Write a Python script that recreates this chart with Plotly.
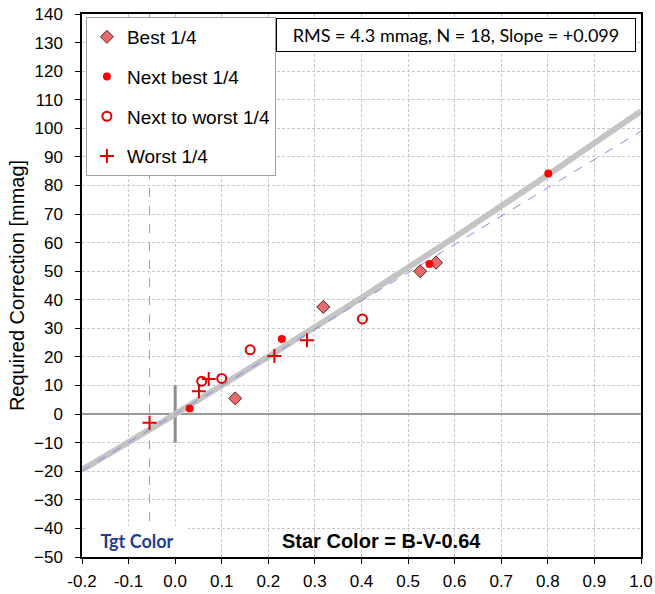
import plotly.graph_objects as go

# star color (B-V-0.64) and required correction [mmag] by quarter
best_x = [0.129, 0.318, 0.526, 0.560]
best_y = [5.5, 37.5, 50.0, 53.0]
next_best_x = [0.031, 0.229, 0.546, 0.801]
next_best_y = [2.0, 26.3, 52.5, 84.2]
next_worst_x = [0.057, 0.100, 0.161, 0.402]
next_worst_y = [11.5, 12.5, 22.5, 33.3]
worst_x = [-0.055, 0.051, 0.072, 0.213, 0.283]
worst_y = [-3.0, 8.0, 12.3, 20.3, 25.8]

# fitted transform curve and linear (slope) line
fit_x = [-0.2, 0.0, 0.2, 0.4, 0.6, 0.8, 1.0]
fit_y = [-19.5, 0.0, 20.1, 40.7, 61.9, 83.7, 106.0]
lin_x = [-0.2, 1.0]
lin_y = [-19.8, 99.0]

tgt_color = -0.055
origin_tick_y = [-10, 10]

x_ticks = [round(-0.2 + 0.1 * i, 1) for i in range(13)]
y_ticks = list(range(-50, 141, 10))

stats_text = "RMS = 4.3 mmag, N = 18, Slope = +0.099"

fig = go.Figure()

fig.add_trace(go.Scatter(x=[tgt_color, tgt_color], y=[-50, 140], mode='lines',
                         line=dict(color='#7ea6d8', width=1, dash='dash'),
                         showlegend=False, hoverinfo='skip'))
fig.add_trace(go.Scatter(x=[0, 0], y=origin_tick_y, mode='lines',
                         line=dict(color='#8c8c8c', width=3),
                         showlegend=False, hoverinfo='skip'))
fig.add_trace(go.Scatter(x=fit_x, y=fit_y, mode='lines', line_shape='spline',
                         line=dict(color='#c4c4c4', width=6),
                         showlegend=False, hoverinfo='skip'))
fig.add_trace(go.Scatter(x=lin_x, y=lin_y, mode='lines',
                         line=dict(color='#7e8ee0', width=1, dash='dash'),
                         showlegend=False, hoverinfo='skip'))

fig.add_trace(go.Scatter(x=best_x, y=best_y, mode='markers', name='Best 1/4', legendgroup='a',
                         marker=dict(symbol='diamond', size=10, color='#e46c6c',
                                     line=dict(color='#5a2020', width=1))))
fig.add_trace(go.Scatter(x=next_best_x, y=next_best_y, mode='markers', name='Next best 1/4', legendgroup='b',
                         marker=dict(symbol='circle', size=8, color='#ff0000')))
fig.add_trace(go.Scatter(x=next_worst_x, y=next_worst_y, mode='markers', name='Next to worst 1/4', legendgroup='c',
                         marker=dict(symbol='circle-open', size=9, color='#e00000',
                                     line=dict(width=2))))
fig.add_trace(go.Scatter(x=worst_x, y=worst_y, mode='markers', name='Worst 1/4', legendgroup='d',
                         marker=dict(symbol='cross-thin', size=10, color='#e00000',
                                     line=dict(color='#e00000', width=2))))

axis_common = dict(showline=True, linecolor='black', linewidth=1.5, mirror=True,
                   ticks='outside', ticklen=5, tickcolor='black', automargin=False,
                   showgrid=True, gridcolor='#c8c8c8', gridwidth=1, griddash='3px,2px',
                   tickfont=dict(family='Arial', size=17, color='black'))

fig.update_xaxes(range=[-0.2, 1.0], tickvals=x_ticks, ticktext=[f'{v:.1f}' for v in x_ticks],
                 zeroline=False, ticklabelstandoff=3, **axis_common)
fig.update_yaxes(range=[-50, 140], tickvals=y_ticks,
                 zeroline=True, zerolinecolor='#999999', zerolinewidth=2, ticklabelstandoff=9,
                 title=dict(text='Required Correction [mmag]', font=dict(family='Arial', size=20, color='black'),
                            standoff=4),
                 **axis_common)

fig.add_annotation(x=0.991, y=0.9926, xref='paper', yref='paper', xanchor='right', yanchor='top',
                   text=stats_text, showarrow=False, width=350, height=24,
                   font=dict(family='Lato', size=18, color='black'),
                   bgcolor='white', bordercolor='black', borderwidth=1, borderpad=4)
fig.add_annotation(x=0.536, y=0.0295, xref='paper', yref='paper', xanchor='center', yanchor='middle',
                   text='<b>Star Color = B-V-0.64</b>', showarrow=False,
                   font=dict(family='Arial', size=20, color='black'))
fig.add_annotation(x=tgt_color, y=0.0, xref='x', yref='paper', xanchor='center', yanchor='bottom',
                   xshift=-13, text='<b>Tgt Color</b>', showarrow=False, width=92, height=22,
                   font=dict(family='Lato', size=18, color='#1f3f94'),
                   bgcolor='white', borderpad=4)

fig.update_layout(
    width=655, height=594,
    margin=dict(l=82, r=14, t=14, b=37),
    plot_bgcolor='white', paper_bgcolor='white',
    font=dict(family='Arial', color='black'),
    legend=dict(x=0.007, y=0.9945, xanchor='left', yanchor='top',
                bgcolor='white', bordercolor='#a0a0a0', borderwidth=1,
                font=dict(family='Arial', size=19, color='black'),
                traceorder='grouped', tracegroupgap=12, itemwidth=30),
)

fig.write_html("out.html", config={'displayModeBar': False},
               post_script="document.body.style.margin='0px';")
